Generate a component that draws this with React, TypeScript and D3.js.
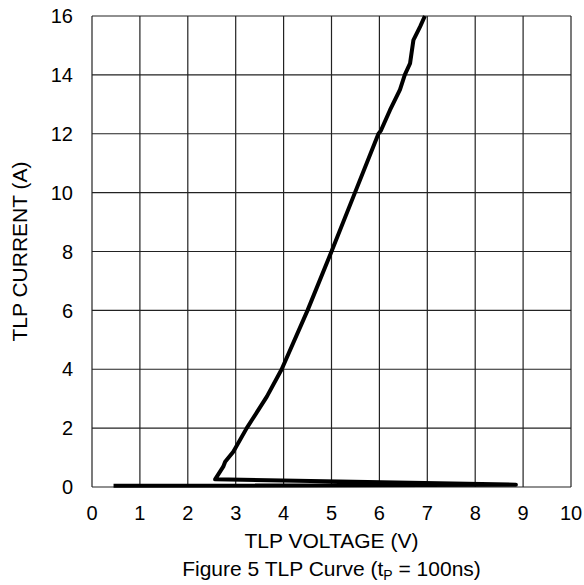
import { useEffect, useRef } from 'react';
import * as d3 from 'd3';

// TLP curve (voltage V, current A)
const voltage = [
  0.45, 8.85, 2.57, 2.74, 2.78, 2.95, 3.23, 3.65, 3.96, 4.5, 5.0, 5.49, 5.98, 6.03, 6.22, 6.43,
  6.53, 6.64, 6.71, 6.85, 6.95,
];
const current = [
  0.04, 0.08, 0.26, 0.69, 0.86, 1.2, 2.0, 3.07, 4.0, 6.0, 8.0, 10.0, 12.0, 12.1, 12.8, 13.5,
  14.0, 14.39, 15.18, 15.64, 16.0,
];

const xTicks = [0, 1, 2, 3, 4, 5, 6, 7, 8, 9, 10];
const yTicks = [0, 2, 4, 6, 8, 10, 12, 14, 16];

export default function App() {
  const svgRef = useRef<SVGSVGElement>(null);

  useEffect(() => {
    if (!svgRef.current) return;
    const svg = d3.select(svgRef.current);
    svg.selectAll('*').remove();

    const width = 584;
    const height = 585;
    const margin = { top: 16, right: 13, bottom: 98, left: 92 };
    const font = 'Arial, "Liberation Sans", Helvetica, sans-serif';
    const tickSize = 20;
    const titleSize = 21;

    const x = d3.scaleLinear().domain([0, 10]).range([margin.left, width - margin.right]);
    const y = d3.scaleLinear().domain([0, 16]).range([height - margin.bottom, margin.top]);

    svg.attr('width', width).attr('height', height);

    // grid
    const grid = svg.append('g').attr('stroke', '#222').attr('stroke-width', 1.2);
    grid
      .selectAll('.vx')
      .data(xTicks)
      .enter()
      .append('line')
      .attr('x1', (d) => x(d))
      .attr('x2', (d) => x(d))
      .attr('y1', y(0))
      .attr('y2', y(16));
    grid
      .selectAll('.hy')
      .data(yTicks)
      .enter()
      .append('line')
      .attr('x1', x(0))
      .attr('x2', x(10))
      .attr('y1', (d) => y(d))
      .attr('y2', (d) => y(d));

    // tick labels
    svg
      .append('g')
      .selectAll('text')
      .data(xTicks)
      .enter()
      .append('text')
      .attr('x', (d) => x(d))
      .attr('y', 520)
      .attr('text-anchor', 'middle')
      .attr('font-family', font)
      .attr('font-size', tickSize)
      .attr('fill', '#000')
      .text((d) => d);

    svg
      .append('g')
      .selectAll('text')
      .data(yTicks)
      .enter()
      .append('text')
      .attr('x', 73)
      .attr('y', (d) => y(d))
      .attr('dy', '0.36em')
      .attr('text-anchor', 'end')
      .attr('font-family', font)
      .attr('font-size', tickSize)
      .attr('fill', '#000')
      .text((d) => d);

    // axis titles
    svg
      .append('text')
      .attr('x', (x(0) + x(10)) / 2)
      .attr('y', 548)
      .attr('text-anchor', 'middle')
      .attr('font-family', font)
      .attr('font-size', titleSize)
      .text('TLP VOLTAGE (V)');

    svg
      .append('text')
      .attr('transform', `translate(27,${(y(0) + y(16)) / 2}) rotate(-90)`)
      .attr('text-anchor', 'middle')
      .attr('font-family', font)
      .attr('font-size', titleSize)
      .text('TLP CURRENT (A)');

    const title = svg
      .append('text')
      .attr('x', (x(0) + x(10)) / 2)
      .attr('y', 576)
      .attr('text-anchor', 'middle')
      .attr('font-family', font)
      .attr('font-size', titleSize);
    title.append('tspan').text('Figure 5 TLP Curve (t');
    title.append('tspan').attr('font-size', 14).attr('dy', 4).text('P');
    title.append('tspan').attr('dy', -4).text(' = 100ns)');

    // curve
    const pts = voltage.map((v, i) => [v, current[i]] as [number, number]);
    const line = d3
      .line<[number, number]>()
      .x((d) => x(d[0]))
      .y((d) => y(d[1]));
    svg
      .append('path')
      .attr('d', line(pts))
      .attr('fill', 'none')
      .attr('stroke', '#000')
      .attr('stroke-width', 4)
      .attr('stroke-linejoin', 'round');
  }, []);

  return <svg ref={svgRef} style={{ position: 'absolute', left: 0, top: 0, background: '#fff' }} />;
}
